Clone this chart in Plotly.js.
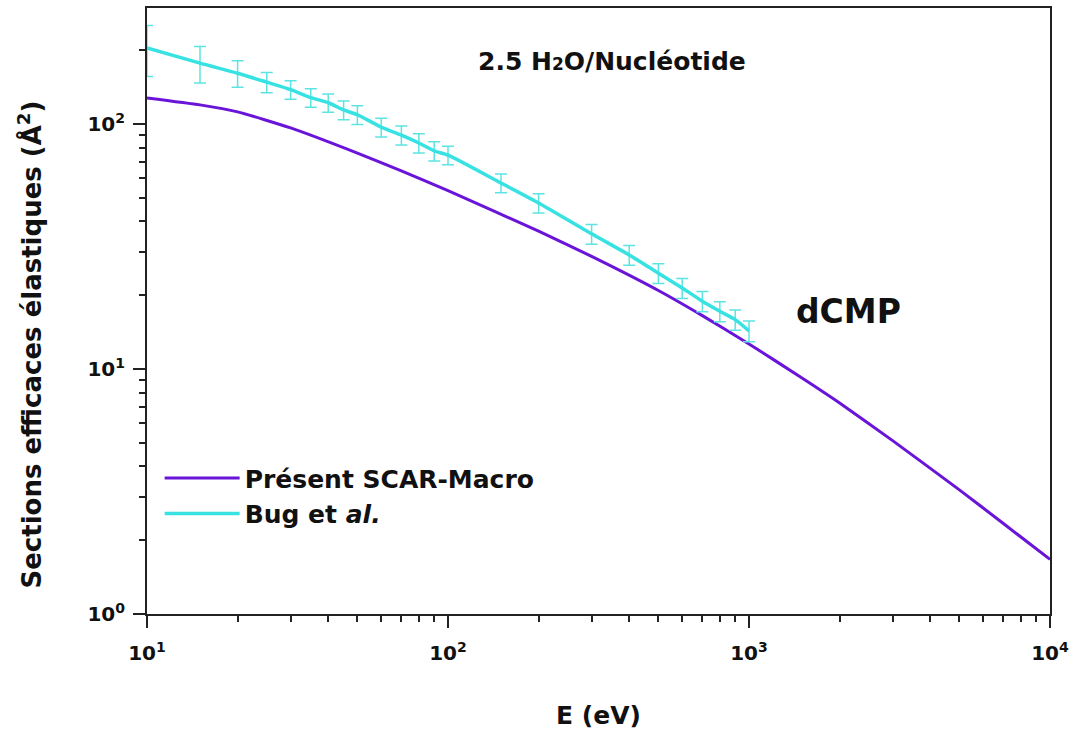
<!DOCTYPE html>
<html>
<head>
<meta charset="utf-8">
<script src="https://cdn.plot.ly/plotly-3.0.1.min.js"></script>
<style>html,body{margin:0;padding:0;background:#fff;}#chart{width:1073px;height:734px;}</style>
</head>
<body>
<div id="chart"></div>
<script>
// Present SCAR-Macro curve
const scarE = [10, 15, 20, 30, 50, 70, 100, 200, 300, 500, 700, 1000, 1500, 2000, 3000, 5000, 7000, 10000];
const scarSigma = [127.7, 119.6, 112, 96.3, 76, 64.3, 53.4, 36.5, 28.8, 20.9, 16.5, 12.65, 9.18, 7.26, 5.10, 3.21, 2.34, 1.67];

// Bug et al. data with error bars
const bugE = [10, 15, 20, 25, 30, 35, 40, 45, 50, 60, 70, 80, 90, 100, 150, 200, 300, 400, 500, 600, 700, 800, 900, 1000];
const bugSigma = [204, 177, 161, 148, 138, 128, 122, 114, 109, 97, 90, 83.6, 77.6, 74.6, 57.4, 47.6, 35.6, 29.2, 24.6, 21.4, 18.9, 17.2, 15.9, 14.3];
const bugErr = [48, 30, 20, 14, 12, 11, 10.5, 10, 9.5, 8.5, 8, 7.5, 7, 6.5, 5, 4.3, 3.3, 2.7, 2.3, 2, 1.8, 1.6, 1.5, 1.4];

const xTickVals = [10, 100, 1000, 10000];
const xTickText = ['10<sup>1</sup>', '10<sup>2</sup>', '10<sup>3</sup>', '10<sup>4</sup>'];
const yTickVals = [1, 10, 100];
const yTickText = ['10<sup>0</sup>', '10<sup>1</sup>', '10<sup>2</sup>'];

// minor tick positions (2..9 within each decade)
function minorTicks(d0, d1) {
  const out = [];
  for (let d = d0; d < d1; d++) for (let m = 2; m <= 9; m++) out.push(m * Math.pow(10, d));
  return out;
}

const FONT = 'DejaVu Sans, Verdana, sans-serif';
const purple = '#6A14D9';
const cyan = '#38E2E2';

const traces = [
  {
    x: scarE, y: scarSigma, type: 'scatter', mode: 'lines',
    name: 'Présent SCAR-Macro',
    line: {color: purple, width: 3, shape: 'spline', smoothing: 0.5}
  },
  {
    x: bugE, y: bugSigma, type: 'scatter', mode: 'lines',
    name: 'Bug et <i>al.</i>',
    line: {color: cyan, width: 3.5, shape: 'spline', smoothing: 0.6},
    error_y: {type: 'data', array: bugErr, visible: true, color: '#5EE3E3', thickness: 1.5, width: 6}
  }
];

function axisCommon(minorVals) {
  return {
    type: 'log',
    showline: true, linecolor: '#222', linewidth: 2, mirror: true,
    ticks: 'outside', ticklen: 12, tickwidth: 2, tickcolor: '#222',
    showgrid: false, zeroline: false,
    minor: {tickmode: 'array', tickvals: minorVals, ticks: 'outside', ticklen: 6, tickwidth: 2, tickcolor: '#222', showgrid: false},
    tickfont: {family: FONT, size: 20, color: '#111', weight: 'bold'},
    tickmode: 'array'
  };
}

const layout = {
  width: 1073, height: 734,
  margin: {l: 147, r: 23, t: 8, b: 120},
  paper_bgcolor: '#fff', plot_bgcolor: '#fff',
  showlegend: true,
  legend: {
    x: 0.014, y: 0.262, xanchor: 'left', yanchor: 'top',
    bgcolor: 'rgba(0,0,0,0)',
    font: {family: FONT, size: 25, color: '#111', weight: 'bold'},
    itemwidth: 75, tracegroupgap: 0
  },
  xaxis: Object.assign(axisCommon(minorTicks(1, 4)), {
    range: [1, 4],
    tickvals: xTickVals, ticktext: xTickText,
    ticklabelstandoff: 8,
    title: {text: 'E (eV)', font: {family: FONT, size: 25, color: '#111', weight: 'bold'}, standoff: 42}
  }),
  yaxis: Object.assign(axisCommon(minorTicks(0, 3)), {
    range: [0, 2.473],
    tickvals: yTickVals, ticktext: yTickText,
    ticklabelstandoff: 4
  }),
  annotations: [
    {text: 'Sections efficaces élastiques (Å<sup>2</sup>)', xref: 'paper', yref: 'paper',
     x: -0.13, y: 0.444, xanchor: 'center', yanchor: 'middle', textangle: -90, showarrow: false,
     font: {family: FONT, size: 26, color: '#111', weight: 'bold'}},
    {text: '2.5 H<span style="font-size:17px">2</span>O/Nucléotide', xref: 'paper', yref: 'paper',
     x: 0.515, y: 0.912, xanchor: 'center', yanchor: 'middle', showarrow: false,
     font: {family: FONT, size: 25, color: '#111', weight: 'bold'}},
    {text: 'dCMP', xref: 'paper', yref: 'paper',
     x: 0.777, y: 0.5, xanchor: 'center', yanchor: 'middle', showarrow: false,
     font: {family: FONT, size: 33, color: '#111', weight: 'bold'}}
  ]
};

Plotly.newPlot('chart', traces, layout, {displayModeBar: false, staticPlot: true});
</script>
</body>
</html>
